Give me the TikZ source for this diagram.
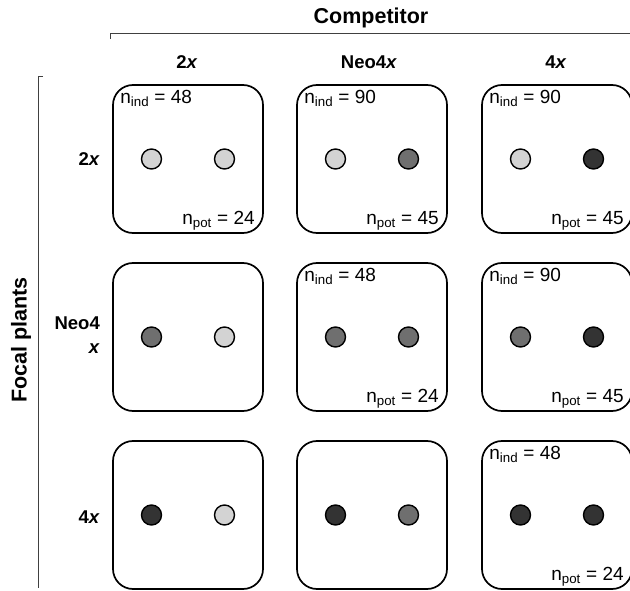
\documentclass[tikz,border=0pt]{standalone}
\usepackage{fontspec}
\setmainfont{Liberation Sans}
\usetikzlibrary{calc}
\definecolor{ploidylight}{HTML}{D3D3D3}
\definecolor{ploidymid}{HTML}{6F6F6F}
\definecolor{ploidydark}{HTML}{333333}
\tikzset{
  cell/.style={draw=black, line width=1.7pt, rounded corners=20pt,
    minimum width=150pt, minimum height=148pt, inner sep=0pt},
  plant/.style={circle, draw=black, line width=1.4pt, minimum size=20pt, inner sep=0pt},
  countlabel/.style={font=\fontsize{19}{21}\selectfont, inner sep=0pt},
  header/.style={font=\fontsize{21.5}{23}\selectfont\bfseries, inner sep=0pt},
  level/.style={font=\fontsize{18.5}{20}\selectfont\bfseries, inner sep=0pt},
  bracket/.style={draw=black!75, line width=0.9pt}
}
\newcommand{\tx}{\textit{x}}
\begin{document}
\begin{tikzpicture}[x=1pt,y=-1pt]
\useasboundingbox (0,0) rectangle (630,591);
\begin{scope}
\clip (0,0) rectangle (630,591);

% axis titles and brackets
\node[header, anchor=base] (comp) at (371,24) {Competitor};
\coordinate (ctick) at (110,39);
\coordinate (ccorner) at (110,33);
\coordinate (cend) at (630,33);
\draw[bracket] (ctick) -- (ccorner) -- (cend);

\node[header, rotate=90] (focal) at (21,340) {Focal plants};
\coordinate (ftick) at (43,76);
\coordinate (fcorner) at (38,76);
\coordinate (fend) at (38,588);
\draw[bracket] (ftick) -- (fcorner) -- (fend);

% column labels (competitor)
\node[level, anchor=base] (c1) at (187,69) {2\tx};
\node[level, anchor=base] (c2) at (369,69) {Neo4\tx};
\node[level, anchor=base] (c3) at (556,69) {4\tx};

% row labels (focal plants)
\node[level, anchor=base east] (r1) at (100,166) {2\tx};
\node[level, anchor=base east] (r2a) at (100,330) {Neo4};
\node[level, anchor=base east] (r2b) at (100,353) {\tx};
\node[level, anchor=base east] (r3) at (100,523) {4\tx};

% cells
\foreach \c/\x in {1/188,2/372,3/557}{
  \foreach \r/\y in {1/159,2/337,3/515}{
    \node[cell] (b\r\c) at (\x,\y) {};
  }
}

% plants: focal (left) and competitor (right)
\foreach \r/\fc in {1/ploidylight,2/ploidymid,3/ploidydark}{
  \foreach \c/\cc in {1/ploidylight,2/ploidymid,3/ploidydark}{
    \node[plant, fill=\fc] (f\r\c) at ($(b\r\c.center)+(-36.5,0)$) {};
    \node[plant, fill=\cc] (k\r\c) at ($(b\r\c.center)+(36.5,0)$) {};
  }
}

% sample sizes
\foreach \b/\ni/\np in {11/48/24,12/90/45,13/90/45,22/48/24,23/90/45,33/48/24}{
  \node[countlabel, anchor=base west] (ni\b) at ($(b\b.north west)+(8,19)$) {n\textsubscript{ind} = \ni};
  \node[countlabel, anchor=base east] (np\b) at ($(b\b.south east)+(-9,-9)$) {n\textsubscript{pot} = \np};
}
\end{scope}
\end{tikzpicture}
\end{document}
